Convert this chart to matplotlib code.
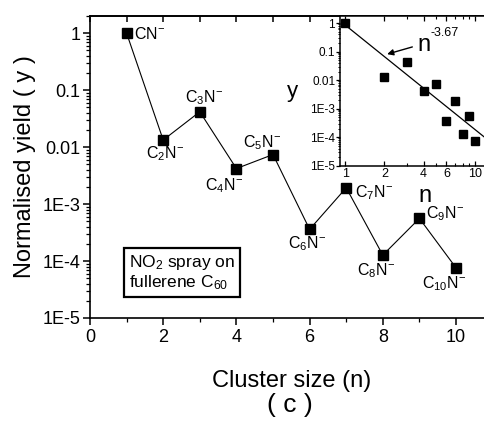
import numpy as np
import matplotlib
matplotlib.use("Agg")
import matplotlib.pyplot as plt
from matplotlib.ticker import FixedLocator, FixedFormatter, LogLocator, NullFormatter

plt.rcParams['font.family'] = ['Liberation Sans', 'DejaVu Sans']
plt.rcParams['mathtext.fontset'] = 'custom'
plt.rcParams['mathtext.rm'] = 'Liberation Sans'
plt.rcParams['mathtext.it'] = 'Liberation Sans'

# data
cluster_n = [1, 2, 3, 4, 5, 6, 7, 8, 9, 10]
yield_y = [1.0, 0.0133, 0.0417, 0.0042, 0.0074, 3.6e-4, 1.93e-3, 1.27e-4, 5.6e-4, 7.6e-5]
labels = [r'CN$^{-}$', r'C$_2$N$^{-}$', r'C$_3$N$^{-}$', r'C$_4$N$^{-}$', r'C$_5$N$^{-}$',
          r'C$_6$N$^{-}$', r'C$_7$N$^{-}$', r'C$_8$N$^{-}$', r'C$_9$N$^{-}$', r'C$_{10}$N$^{-}$']
fit_coef = 0.85
fit_exp = -3.67
y_ticks = [1e-5, 1e-4, 1e-3, 1e-2, 1e-1, 1]
y_ticklabels = ['1E-5', '1E-4', '1E-3', '0.01', '0.1', '1']

# label offsets (points) and alignment
lab_off = [(5, -4), (1.5, -13), (3, 7), (-9, -16), (-8, 5), (-2, -14), (6.5, -7), (-5, -14.5), (4.5, 0), (-8.5, -14.5)]
lab_ha = ['left', 'center', 'center', 'center', 'center', 'center', 'left', 'center', 'left', 'center']

W, H = 484, 423
fig = plt.figure(figsize=(W / 100, H / 100), dpi=100)

# main axes
ax = fig.add_axes([90 / W, 1 - 318 / H, 395.3 / W, 302 / H])
ax.plot(cluster_n, yield_y, color='black', lw=0.8, marker='s', ms=7.2, mfc='black', mec='black')
ax.set_yscale('log')
ax.set_xlim(0, 10.8)
ax.set_ylim(1e-5, 2.0)
ax.xaxis.set_major_locator(FixedLocator([0, 2, 4, 6, 8, 10]))
ax.xaxis.set_minor_locator(FixedLocator([1, 3, 5, 7, 9]))
ax.yaxis.set_major_locator(FixedLocator(y_ticks))
ax.yaxis.set_major_formatter(FixedFormatter(y_ticklabels))
ax.yaxis.set_minor_locator(LogLocator(base=10, subs=np.arange(2, 10), numticks=20))
ax.yaxis.set_minor_formatter(NullFormatter())
ax.tick_params(which='major', direction='out', length=5, width=1.1, labelsize=13, pad=2)
ax.tick_params(which='minor', direction='out', length=3, width=0.9)
ax.tick_params(axis='x', pad=3)
for s in ax.spines.values():
    s.set_linewidth(1.2)
ax.spines['right'].set_visible(False)

top = ax.secondary_xaxis('top')
top.set_xticks([0, 1, 2, 3, 4, 5, 6, 7, 8, 9, 10])
top.tick_params(direction='in', length=4, width=1.1, labeltop=False)
top.spines['top'].set_linewidth(1.2)

for n, y, lab, off, ha in zip(cluster_n, yield_y, labels, lab_off, lab_ha):
    ax.annotate(lab, xy=(n, y), xytext=off, textcoords='offset points',
                ha=ha, va='baseline', fontsize=11.5)

ax.text(0.2327, 0.1507, 'NO$_2$ spray on\nfullerene C$_{60}$', transform=ax.transAxes,
        ha='center', va='center', multialignment='left', fontsize=12.5, linespacing=1.05,
        bbox=dict(boxstyle='square,pad=0.3', fc='white', ec='black', lw=1.6))

fig.text(25 / W, 1 - 167 / H, 'Normalised yield ( y )', rotation=90, ha='center', va='center', fontsize=17)
fig.text(292 / W, 1 - 381 / H, 'Cluster size (n)', ha='center', va='center', fontsize=17)
fig.text(290 / W, 1 - 405 / H, '( c )', ha='center', va='center', fontsize=19)

# inset
ax_in = fig.add_axes([340 / W, 1 - 165.7 / H, 145.6 / W, 149.7 / H])
ax_in.set_xscale('log')
ax_in.set_yscale('log')
ax_in.plot(cluster_n, yield_y, ls='none', marker='s', ms=5.2, mfc='black', mec='black')
n_fit = np.array([1.0, 12.0])
ax_in.plot(n_fit, fit_coef * n_fit ** fit_exp, color='black', lw=0.9)
ax_in.set_xlim(0.91, 12)
ax_in.set_ylim(1e-5, 1.78)
ax_in.xaxis.set_major_locator(FixedLocator([1, 2, 4, 6, 10]))
ax_in.xaxis.set_major_formatter(FixedFormatter(['1', '2', '4', '6', '10']))
ax_in.xaxis.set_minor_locator(FixedLocator([3, 5, 7, 8, 9]))
ax_in.xaxis.set_minor_formatter(NullFormatter())
ax_in.yaxis.set_major_locator(FixedLocator(y_ticks))
ax_in.yaxis.set_major_formatter(FixedFormatter(y_ticklabels))
ax_in.yaxis.set_minor_locator(LogLocator(base=10, subs=np.arange(2, 10), numticks=20))
ax_in.yaxis.set_minor_formatter(NullFormatter())
ax_in.tick_params(axis='x', which='both', direction='in', top=True, labelsize=9, pad=2)
ax_in.tick_params(axis='x', which='major', length=3.5, width=0.9)
ax_in.tick_params(axis='x', which='minor', length=2, width=0.8)
ax_in.tick_params(axis='y', which='major', direction='out', length=3, width=0.9, labelsize=8.5, pad=0.5)
ax_in.tick_params(axis='y', which='minor', direction='out', length=1.8, width=0.7)
for s in ax_in.spines.values():
    s.set_linewidth(1.1)
ax_in.spines['right'].set_visible(False)

fit_at2 = fit_coef * 2.0 ** fit_exp * 1.15
ax_in.annotate('', xy=(2.0, fit_at2), xytext=(22, 6.3), textcoords='offset points',
               arrowprops=dict(arrowstyle='-|>', color='black', lw=1.0, mutation_scale=9))
ax_in.annotate('n', xy=(2.0, fit_at2), xytext=(23.5, 2.5), textcoords='offset points',
               ha='left', va='baseline', fontsize=17)
ax_in.annotate('-3.67', xy=(2.0, fit_at2), xytext=(32.8, 13.5), textcoords='offset points',
               ha='left', va='baseline', fontsize=9)
ax_in.text((292 - 340) / 145.6, (165.7 - 97) / 149.7, 'y', transform=ax_in.transAxes,
           ha='center', va='baseline', fontsize=16)
ax_in.text((425 - 340) / 145.6, (165.7 - 202) / 149.7, 'n', transform=ax_in.transAxes,
           ha='center', va='baseline', fontsize=17)

fig.savefig('out.png', dpi=100)
